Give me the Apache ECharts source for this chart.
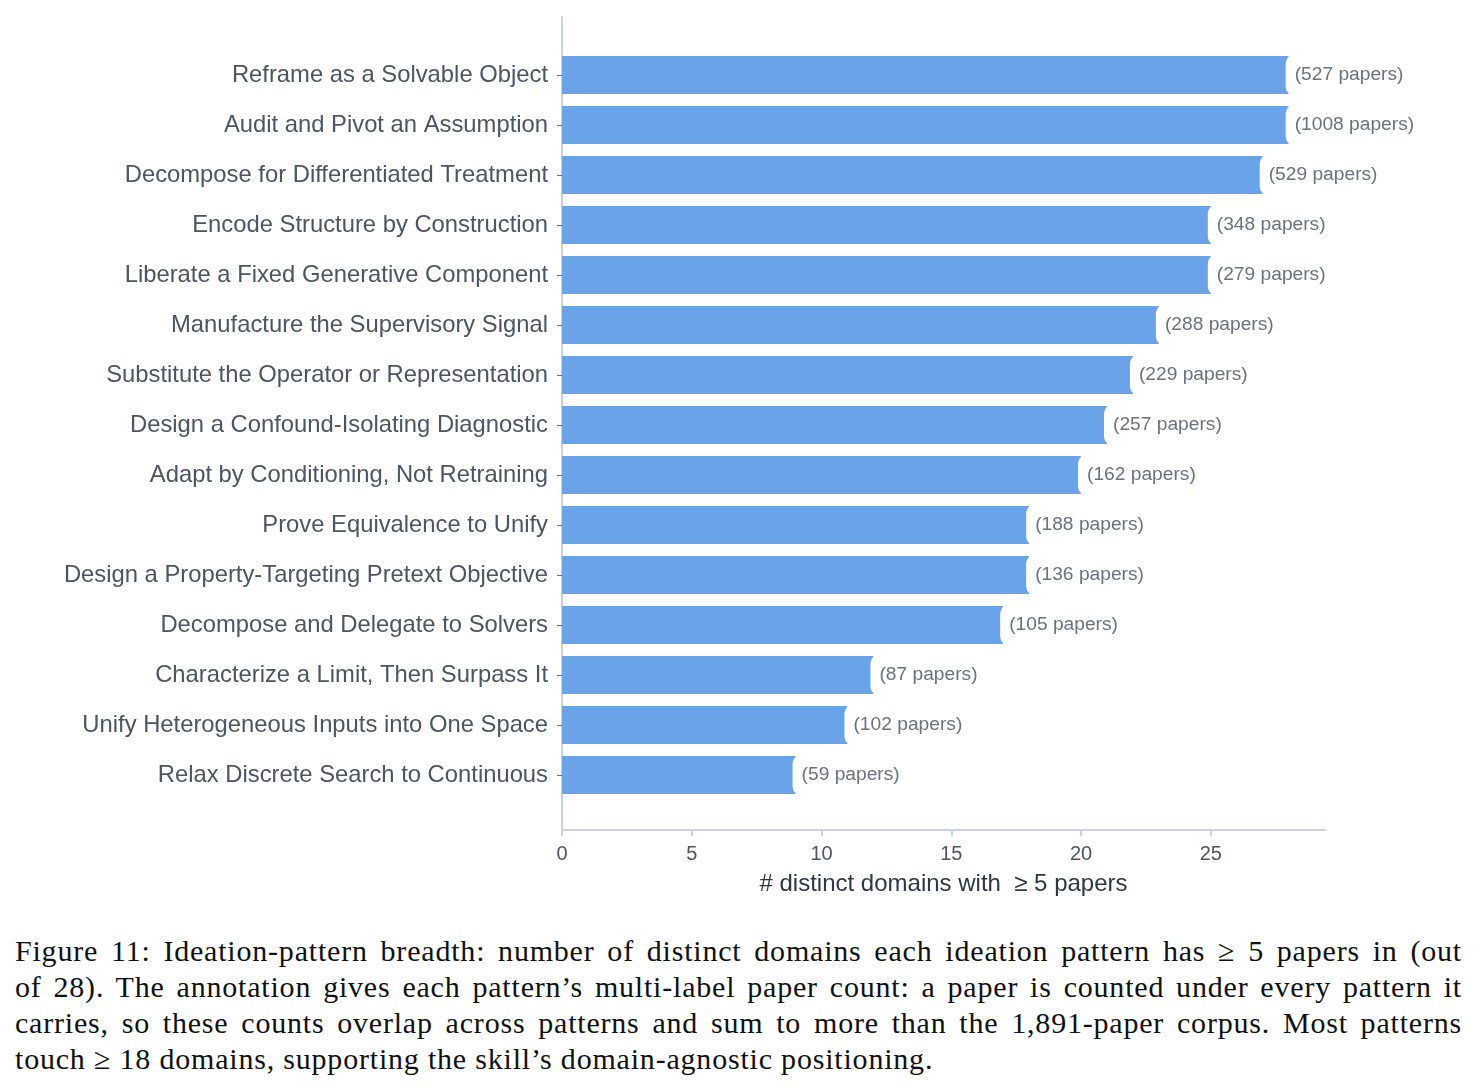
<!DOCTYPE html>
<html>
<head>
<meta charset="utf-8">
<script src="https://cdn.jsdelivr.net/npm/echarts@6/dist/echarts.min.js"></script>
<style>
  html, body { margin: 0; padding: 0; background: #fff; }
  #chart { position: absolute; left: 0; top: 0; width: 1477px; height: 915px; }
  #caption {
    position: absolute; left: 15px; top: 933px; width: 1447px;
    font-family: "Liberation Serif", "DejaVu Serif", serif; font-size: 30px;
    letter-spacing: 0.8px; line-height: 36px; color: #111;
  }
  #caption div { text-align: justify; text-align-last: justify; white-space: nowrap; }
  #caption div.last { text-align-last: left; }
</style>
</head>
<body>
<div id="chart"></div>
<div id="caption">
  <div>Figure 11: Ideation-pattern breadth: number of distinct domains each ideation pattern has ≥ 5 papers in (out</div>
  <div>of 28). The annotation gives each pattern’s multi-label paper count: a paper is counted under every pattern it</div>
  <div>carries, so these counts overlap across patterns and sum to more than the 1,891-paper corpus. Most patterns</div>
  <div class="last">touch ≥ 18 domains, supporting the skill’s domain-agnostic positioning.</div>
</div>
<script>
// top to bottom
const patterns = [
  "Reframe as a Solvable Object",
  "Audit and Pivot an Assumption",
  "Decompose for Differentiated Treatment",
  "Encode Structure by Construction",
  "Liberate a Fixed Generative Component",
  "Manufacture the Supervisory Signal",
  "Substitute the Operator or Representation",
  "Design a Confound-Isolating Diagnostic",
  "Adapt by Conditioning, Not Retraining",
  "Prove Equivalence to Unify",
  "Design a Property-Targeting Pretext Objective",
  "Decompose and Delegate to Solvers",
  "Characterize a Limit, Then Surpass It",
  "Unify Heterogeneous Inputs into One Space",
  "Relax Discrete Search to Continuous"
];
const domainCounts = [28, 28, 27, 25, 25, 23, 22, 21, 20, 18, 18, 17, 12, 11, 9];
const paperCounts = [527, 1008, 529, 348, 279, 288, 229, 257, 162, 188, 136, 105, 87, 102, 59];
const xTicks = [0, 5, 10, 15, 20, 25];

const labelColor = '#4b5563';
const axisColor = '#c9d3e3';
const xMax = 29.4;

const chart = echarts.init(document.getElementById('chart'));
chart.setOption({
  animation: false,
  textStyle: { fontFamily: 'Liberation Sans, Arial, sans-serif' },
  grid: [
    { left: 562, right: 152, top: 50, height: 750 },
    { left: 562, right: 152, top: 17, height: 813 }
  ],
  xAxis: [
    { gridIndex: 0, type: 'value', min: 0, max: xMax, show: false },
    {
      gridIndex: 1, type: 'value', min: 0, max: xMax,
      name: '# distinct domains with  \u2265 5 papers',
      nameLocation: 'middle', nameGap: 42,
      nameTextStyle: { fontSize: 24, color: '#2d3748' },
      axisLine: { show: true, lineStyle: { color: axisColor, width: 2 } },
      axisTick: { show: true, customValues: xTicks, length: 6, lineStyle: { color: axisColor, width: 2 } },
      axisLabel: { customValues: xTicks, fontSize: 20, color: labelColor, margin: 14 },
      splitLine: { show: false }
    }
  ],
  yAxis: [
    {
      gridIndex: 0, type: 'category', data: patterns, inverse: true,
      axisLine: { show: false },
      axisTick: { show: true, alignWithLabel: true, length: 5, lineStyle: { color: '#6b7280' } },
      axisLabel: { fontSize: 23.8, color: labelColor, margin: 14 }
    },
    {
      gridIndex: 1, type: 'value', min: 0, max: 1,
      axisLine: { show: true, onZero: false, lineStyle: { color: axisColor, width: 2 } },
      axisTick: { show: false }, axisLabel: { show: false }, splitLine: { show: false }
    }
  ],
  series: [{
    type: 'bar',
    xAxisIndex: 0, yAxisIndex: 0,
    data: domainCounts,
    barWidth: 38,
    itemStyle: { color: '#6aa3e8' },
    label: {
      show: true, position: 'right', distance: 0, offset: [-3, 0],
      formatter: p => '(' + paperCounts[p.dataIndex] + ' papers)',
      fontSize: 19.2, color: '#6b7280',
      backgroundColor: '#fff', borderRadius: 9,
      padding: [11, 4, 11, 9]
    }
  }]
});
</script>
</body>
</html>
